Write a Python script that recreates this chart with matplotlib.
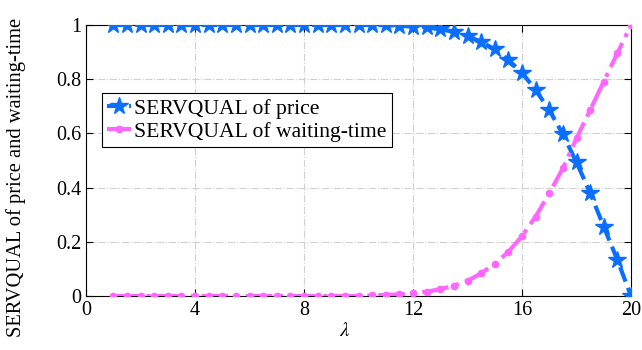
import numpy as np
import matplotlib
matplotlib.use("Agg")
import matplotlib.pyplot as plt

lam = [1, 1.5, 2, 2.5, 3, 3.5, 4, 4.5, 5, 5.5, 6, 6.5, 7, 7.5, 8, 8.5, 9, 9.5,
       10, 10.5, 11, 11.5, 12, 12.5, 13, 13.5, 14, 14.5, 15, 15.5, 16, 16.5,
       17, 17.5, 18, 18.5, 19, 19.5, 20]
price = [1.0] * 19 + [1.0, 0.999, 0.997, 0.994, 0.991, 0.984, 0.975, 0.959,
                      0.938, 0.910, 0.871, 0.824, 0.760, 0.686, 0.597, 0.493,
                      0.381, 0.256, 0.133, 0.0]
waiting = [0.0] * 19 + [0.002, 0.004, 0.006, 0.010, 0.016, 0.025, 0.038, 0.056,
                        0.084, 0.118, 0.163, 0.221, 0.293, 0.379, 0.471, 0.582,
                        0.686, 0.791, 0.896, 1.0]
xticks = [0, 4, 8, 12, 16, 20]
yticks = [0, 0.2, 0.4, 0.6, 0.8, 1]
ytick_labels = ["0", "0.2", "0.4", "0.6", "0.8", "1"]

plt.rcParams['font.family'] = ['Liberation Serif', 'DejaVu Serif']
plt.rcParams['mathtext.fontset'] = 'stix'

fig = plt.figure(figsize=(6.42, 3.5), dpi=100)
ax = fig.add_axes([86/642, 1 - 296/350, 545/642, 271/350])

blue = '#0A6EFF'
pink = '#FF66FF'
ax.plot(lam, price, linestyle='--', color=blue, linewidth=3, marker='*',
        markersize=13, label='SERVQUAL of price', zorder=3)
ax.plot(lam, waiting, linestyle='-.', color=pink, linewidth=3, marker='.',
        markersize=9, label='SERVQUAL of waiting-time', zorder=3)

ax.set_xlim(0, 20)
ax.set_ylim(0, 1)
ax.set_xticks(xticks)
ax.set_xticklabels([str(t) for t in xticks])
ax.set_yticks(yticks)
ax.set_yticklabels(ytick_labels)
ax.tick_params(direction='in', top=True, right=True, labelsize=14.5, length=5,
               width=0.8)
ax.grid(True, color='#d0d0d0', linestyle='-.', linewidth=0.8)
ax.set_axisbelow(True)
for s in ax.spines.values():
    s.set_color('black')
    s.set_linewidth(0.8)

ax.set_xlabel(r'$\lambda$', fontsize=15)
ax.xaxis.set_label_coords((345 - 86) / 545, -(322 - 296) / 271)
ax.set_ylabel('SERVQUAL of price and waiting-time', fontsize=14.8)
ax.yaxis.set_label_coords(-(86 - 26) / 545, (296 - 177) / 271)

leg = ax.legend(loc='upper left', bbox_to_anchor=(0.029, 0.749), fontsize=15.6,
                frameon=True, fancybox=False, edgecolor='black', framealpha=1,
                handlelength=1.1, handletextpad=0.15, borderpad=0.25,
                labelspacing=0.15, borderaxespad=0)
leg.get_frame().set_linewidth(0.8)

fig.savefig('out.png', dpi=100)
